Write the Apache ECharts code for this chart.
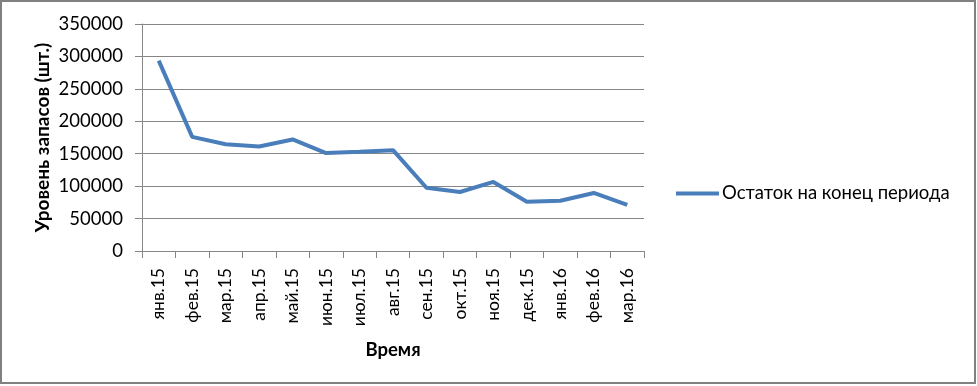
<!DOCTYPE html>
<html><head><meta charset="utf-8">
<script src="https://cdn.jsdelivr.net/npm/echarts@6/dist/echarts.min.js"></script>
<style>html,body{margin:0;padding:0;background:#fff}#c{width:977px;height:386px}</style>
</head><body><div id="c"></div>
<script>
const categories = ['янв.15','фев.15','мар.15','апр.15','май.15','июн.15','июл.15','авг.15','сен.15','окт.15','ноя.15','дек.15','янв.16','фев.16','мар.16'];
const stockValues = [293500, 176000, 164500, 161000, 172000, 151000, 153000, 155500, 97500, 91000, 106500, 76000, 77500, 89500, 71000];
const seriesName = 'Остаток на конец периода';
const yAxisTitle = 'Уровень запасов (шт.)';
const xAxisTitle = 'Время';

const FONT = 'Lato, "Open Sans", sans-serif';
const chart = echarts.init(document.getElementById('c'), null, {renderer:'canvas'});
chart.setOption({
  animation: false,
  backgroundColor: '#fff',
  graphic: [{type:'rect', shape:{x:1,y:1,width:974,height:382}, style:{fill:'none', stroke:'#808080', lineWidth:2}, silent:true}],
  grid: {left:142, right:333, top:24, bottom:135, containLabel:false},
  legend: {
    data:[{name: seriesName, icon:'rect'}],
    left: 671, top: 179, itemWidth: 43, itemHeight: 4, itemGap: 5,
    textStyle:{fontFamily:FONT, fontSize:18.5, color:'#000', padding:[0,0,0,-2]}
  },
  xAxis: {
    type:'category', data: categories, boundaryGap:true,
    name: xAxisTitle, nameLocation:'middle', nameGap: 90, nameMoveOverlap:false,
    nameTextStyle:{fontFamily:FONT, fontSize:18.5, fontWeight:'bold', color:'#000'},
    axisLine:{lineStyle:{color:'#868686', width:1}},
    axisTick:{show:true, alignWithLabel:false, length:7, lineStyle:{color:'#868686'}},
    axisLabel:{rotate:90, fontFamily:FONT, fontSize:17.5, color:'#000', margin:17, interval:0}
  },
  yAxis: {
    type:'value', min:0, max:350000, interval:50000,
    name: yAxisTitle, nameLocation:'middle', nameGap: 90, nameMoveOverlap:false,
    nameTextStyle:{fontFamily:FONT, fontSize:19, fontWeight:'bold', color:'#000'},
    axisLine:{show:true, lineStyle:{color:'#868686', width:1}},
    axisTick:{show:true, length:7, lineStyle:{color:'#868686'}},
    splitLine:{lineStyle:{color:'#868686', width:1}},
    axisLabel:{fontFamily:FONT, fontSize:18.5, color:'#000', margin:19, formatter: v => String(v)}
  },
  series: [{
    name: seriesName, type:'line', data: stockValues, symbol:'none',
    lineStyle:{color:'#4a7ebb', width:4}, itemStyle:{color:'#4a7ebb'}
  }]
});
</script></body></html>
